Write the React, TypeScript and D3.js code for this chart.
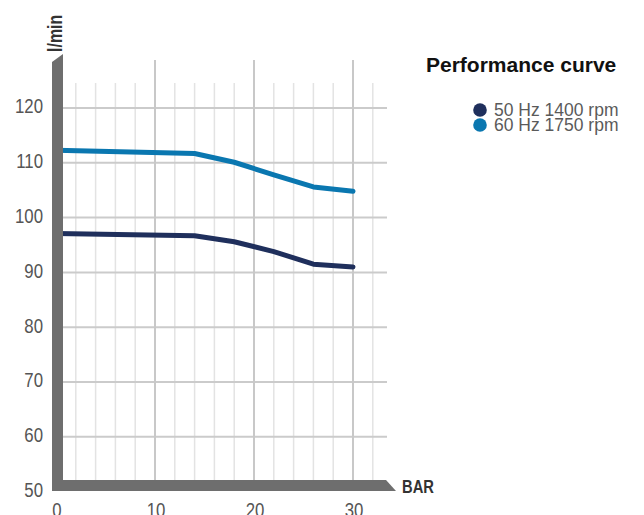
import React from "react";
import * as d3 from "d3";

const pressureBar = [0, 14, 18, 22, 26, 30];
const flow50Hz = [97.1, 96.7, 95.6, 93.8, 91.5, 91.0];
const flow60Hz = [112.3, 111.7, 110.1, 107.8, 105.6, 104.8];
const yTicks = [50, 60, 70, 80, 90, 100, 110, 120];
const xTicks = [0, 10, 20, 30];
const minorX = [2, 4, 6, 8, 12, 14, 16, 18, 22, 24, 26, 28, 32];
const seriesNames = ["50 Hz 1400 rpm", "60 Hz 1750 rpm"];
const seriesColors = ["#1f2f5c", "#0a77b0"];
const legendTitle = "Performance curve";
const xTitle = "BAR";
const yTitle = "l/min";

const W = 644;
const H = 515;
const FONT = "'Liberation Sans', Arial, sans-serif";
const NARROW = 0.82;

function NarrowText(props: {
  x: number;
  y: number;
  anchor?: "start" | "middle" | "end";
  size: number;
  weight?: string;
  fill: string;
  rotate?: number;
  dy?: string;
  children: React.ReactNode;
}) {
  const { x, y, anchor = "start", size, weight = "normal", fill, rotate = 0, dy, children } = props;
  return (
    <g transform={`translate(${x},${y}) rotate(${rotate}) scale(${NARROW},1)`}>
      <text
        x={0}
        y={0}
        dy={dy}
        textAnchor={anchor}
        fontFamily={FONT}
        fontSize={size}
        fontWeight={weight}
        fill={fill}
      >
        {children}
      </text>
    </g>
  );
}

export default function App() {
  const x = d3.scaleLinear().domain([0, 30]).range([56, 353]);
  const y = d3.scaleLinear().domain([50, 120]).range([491.6, 108]);
  const axisColor = "#6e6e6e";
  const line = d3
    .line<[number, number]>()
    .x((d) => x(d[0]))
    .y((d) => y(d[1]))
    .curve(d3.curveLinear);
  const series = [flow50Hz, flow60Hz];

  const gridRight = 387;
  const axisBottom = 491;
  const axisTopBar = 480;

  return (
    <svg
      width={W}
      height={H}
      style={{ position: "absolute", left: 0, top: 0, background: "#fff" }}
    >
      {minorX.map((v) => (
        <line
          key={"mx" + v}
          x1={x(v)}
          x2={x(v)}
          y1={83}
          y2={axisTopBar}
          stroke="#e3e3e3"
          strokeWidth={1.5}
        />
      ))}
      {yTicks
        .filter((v) => v > 50)
        .map((v) => (
          <line
            key={"hy" + v}
            x1={60}
            x2={gridRight}
            y1={y(v)}
            y2={y(v)}
            stroke="#cbcbcb"
            strokeWidth={2}
          />
        ))}
      {xTicks
        .filter((v) => v > 0)
        .map((v) => (
          <line
            key={"vx" + v}
            x1={x(v)}
            x2={x(v)}
            y1={60}
            y2={axisTopBar}
            stroke="#c8c8c8"
            strokeWidth={2}
          />
        ))}

      {series.map((s, i) => (
        <path
          key={"s" + i}
          d={line(pressureBar.map((p, j) => [p, s[j]] as [number, number])) || ""}
          fill="none"
          stroke={seriesColors[i]}
          strokeWidth={5}
          strokeLinecap="round"
          strokeLinejoin="round"
        />
      ))}

      <path d={`M52,62 L63,54 L63,${axisBottom} L52,${axisBottom} Z`} fill={axisColor} />
      <path
        d={`M52,${axisTopBar} L386,${axisTopBar} L396,${axisBottom} L52,${axisBottom} Z`}
        fill={axisColor}
      />

      {yTicks.map((v) => (
        <NarrowText
          key={"yl" + v}
          x={43}
          y={y(v) - 2}
          dy="0.36em"
          anchor="end"
          size={20.5}
          fill="#555"
        >
          {v}
        </NarrowText>
      ))}
      {xTicks.map((v) => (
        <NarrowText key={"xl" + v} x={x(v) + 1} y={517} anchor="middle" size={20.5} fill="#555">
          {v}
        </NarrowText>
      ))}

      <NarrowText x={402} y={493} size={18} weight="bold" fill="#333">
        {xTitle}
      </NarrowText>
      <NarrowText x={62} y={52} rotate={-90} size={19.5} weight="bold" fill="#333">
        {yTitle}
      </NarrowText>

      <text x={426} y={72} fontFamily={FONT} fontWeight="bold" fontSize={21} fill="#111">
        {legendTitle}
      </text>
      {seriesNames.map((n, i) => (
        <g key={"lg" + i}>
          <circle cx={480} cy={110 + i * 15} r={6.8} fill={seriesColors[i]} />
          <text x={494} y={116 + i * 15} fontFamily={FONT} fontSize={17.5} fill="#5a5a5a">
            {n}
          </text>
        </g>
      ))}
    </svg>
  );
}
